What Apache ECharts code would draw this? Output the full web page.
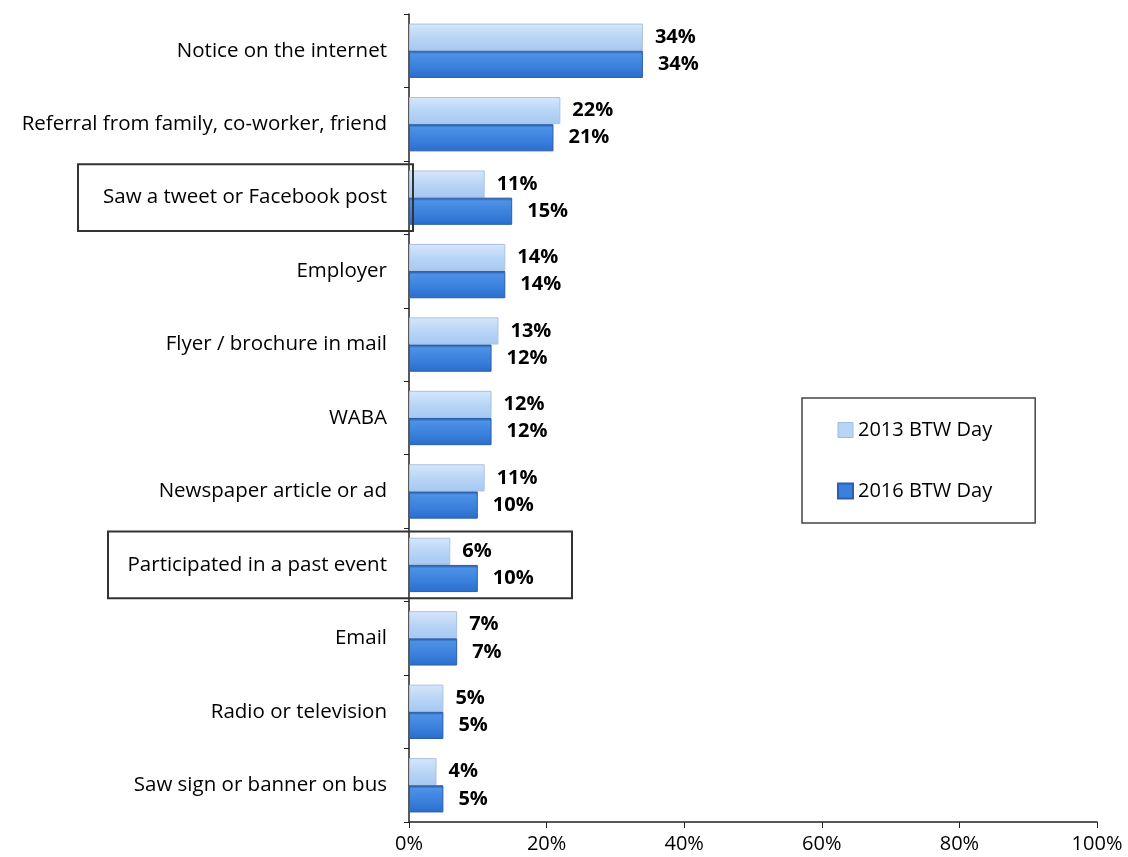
<!DOCTYPE html>
<html><head><meta charset="utf-8">
<script src="https://cdn.jsdelivr.net/npm/echarts@6/dist/echarts.min.js"></script>
<style>html,body{margin:0;padding:0;background:#fff}#c{width:1128px;height:857px}</style>
</head><body><div id="c"></div>
<script>
const categories = ["Notice on the internet","Referral from family, co-worker, friend","Saw a tweet or Facebook post","Employer","Flyer / brochure in mail","WABA","Newspaper article or ad","Participated in a past event","Email","Radio or television","Saw sign or banner on bus"];
const values2013 = [34,22,11,14,13,12,11,6,7,5,4];
const values2016 = [34,21,15,14,12,12,10,10,7,5,5];
const seriesNames = ["2013 BTW Day","2016 BTW Day"];
const highlighted = ["Saw a tweet or Facebook post","Participated in a past event"];
const FONT = "'Open Sans', 'Noto Sans', sans-serif";

const chart = echarts.init(document.getElementById('c'));
const grad2013 = new echarts.graphic.LinearGradient(0,0,0,1,[
  {offset:0,color:'#d6e7fb'},{offset:0.5,color:'#b9d5f6'},{offset:1,color:'#a6c8f2'}]);
const grad2016 = new echarts.graphic.LinearGradient(0,0,0,1,[
  {offset:0,color:'#1d4f9a'},{offset:0.12,color:'#4d92e6'},{offset:0.6,color:'#3a80dc'},{offset:1,color:'#2b6ccb'}]);
function lbl(dist){return {show:true,position:'right',distance:dist,formatter:'{c}%',color:'#000',fontWeight:'bold',fontSize:20,fontFamily:FONT};}
chart.setOption({
  animation:false,
  grid:{left:409,right:31,top:14,bottom:35},
  legend:{
    data:[{name:seriesNames[0],itemStyle:{color:'#b9d5f6',borderColor:'#9dbbe0',borderWidth:1}},{name:seriesNames[1],itemStyle:{color:'#3a80dc'}}],
    icon:'rect',
    orient:'vertical',left:802,top:398,
    padding:[22,43,22,35],itemGap:41,itemWidth:15,itemHeight:15,
    borderColor:'#444',borderWidth:1.5,
    textStyle:{fontSize:20,fontFamily:FONT,color:'#000'}
  },
  xAxis:{type:'value',min:0,max:100,interval:20,
    axisLabel:{formatter:'{value}%',fontSize:20,fontFamily:FONT,color:'#000',margin:12},
    axisLine:{show:true,lineStyle:{color:'#222',width:1.5}},
    axisTick:{show:true,length:6,lineStyle:{color:'#222'}},
    splitLine:{show:false}},
  yAxis:{type:'category',inverse:true,data:categories,
    axisLabel:{fontSize:20.5,fontFamily:FONT,color:'#000',margin:22},
    axisLine:{lineStyle:{color:'#222',width:1.5}},
    axisTick:{show:true,length:5,lineStyle:{color:'#222'}}},
  series:[
    {name:seriesNames[0],type:'bar',data:values2013,barGap:'0%',barCategoryGap:'26%',
      itemStyle:{color:grad2013,borderColor:'#a9c2e0',borderWidth:1},label:lbl(12)},
    {name:seriesNames[1],type:'bar',data:values2016,barGap:'0%',barCategoryGap:'26%',
      itemStyle:{color:grad2016,borderColor:'#2a5fae',borderWidth:1},label:lbl(15)}
  ]
});
const boxes = [];
const bandW = Math.abs(chart.convertToPixel({yAxisIndex:0},categories[1]) - chart.convertToPixel({yAxisIndex:0},categories[0]));
const boxExtents = {"Saw a tweet or Facebook post":[78,413],"Participated in a past event":[108,572]};
highlighted.forEach(function(name){
  const cy = chart.convertToPixel({yAxisIndex:0},name);
  const ext = boxExtents[name];
  boxes.push({type:'rect',shape:{x:ext[0],y:cy-bandW*0.455,width:ext[1]-ext[0],height:bandW*0.91},
    style:{fill:'none',stroke:'#333',lineWidth:2},z:100});
});
chart.setOption({graphic:boxes});
</script></body></html>
